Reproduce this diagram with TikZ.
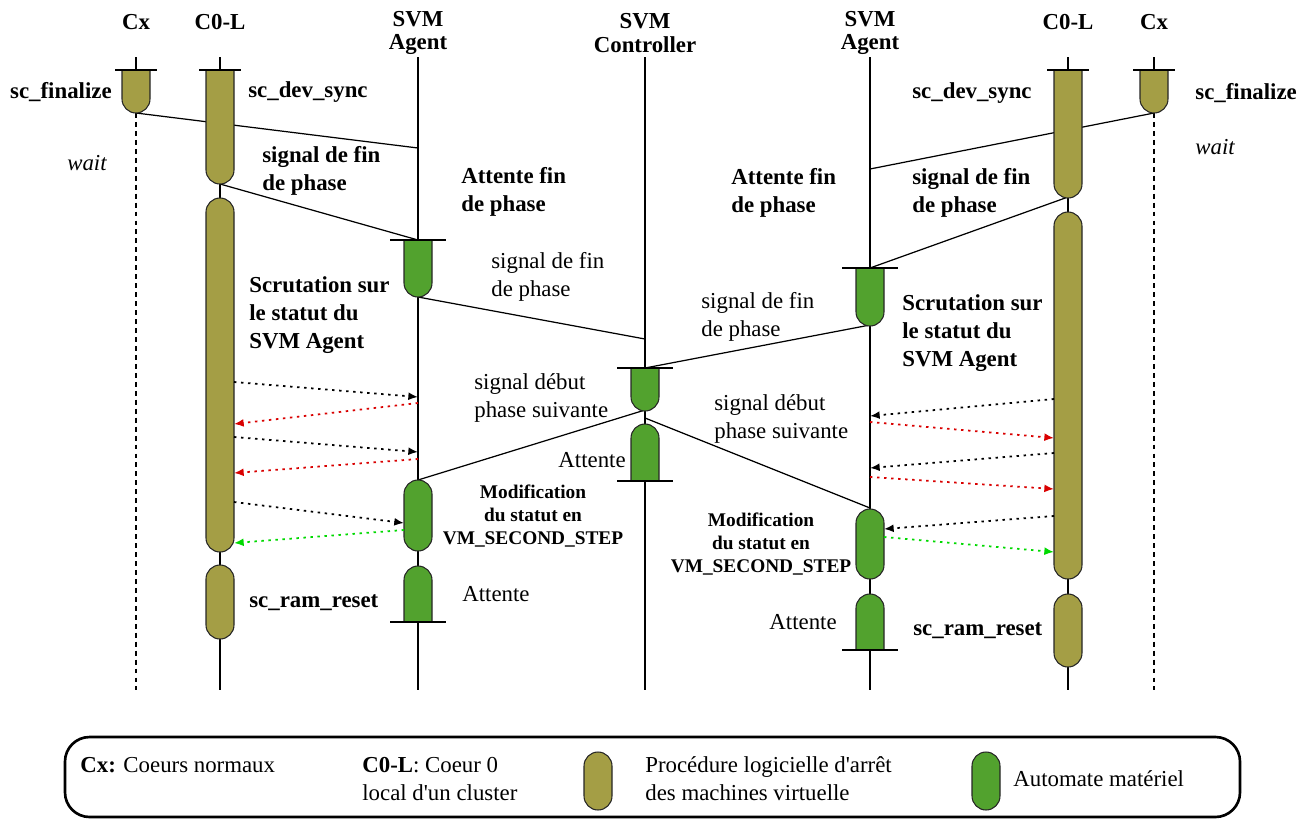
\documentclass[tikz,border=0pt]{standalone}
\usepackage{fontspec}
\setmainfont{Liberation Serif}[Ligatures=TeXOff]
\usetikzlibrary{arrows.meta}
\definecolor{olivebox}{RGB}{164,158,69}
\definecolor{greenbox}{RGB}{82,162,46}
\colorlet{pollred}{red!85!black}
\colorlet{pollgreen}{green!85!black}

% flat top with a tick, rounded bottom: x, top, bottom, colour, tick half width
\newcommand\boxdown[5]{%
  \draw[boxdraw, fill=#4] (#1-14,#2) -- (#1-14,#3-14) arc(180:0:14) -- (#1+14,#2) -- cycle;
  \draw[tick] (#1-#5,#2) -- (#1+#5,#2);}
% rounded top, flat bottom with a tick
\newcommand\boxup[5]{%
  \draw[boxdraw, fill=#4] (#1-14,#3) -- (#1-14,#2+14) arc(180:360:14) -- (#1+14,#3) -- cycle;
  \draw[tick] (#1-#5,#3) -- (#1+#5,#3);}
% both ends rounded
\newcommand\pillbox[4]{%
  \draw[boxdraw, fill=#4] (#1-14,#2+14) arc(180:360:14) -- (#1+14,#3-14) arc(0:180:14) -- cycle;}

\tikzset{
  lifeline/.style={line width=0.7pt},
  cxline/.style={line width=0.7pt, dash pattern=on 2.8pt off 2.3pt},
  tick/.style={line width=0.8pt},
  boxdraw/.style={draw=black!85, line width=0.6pt},
  signal/.style={line width=0.7pt},
  poll/.style={line width=1pt, dash pattern=on 1.4pt off 2.6pt, -{Latex[length=5.5pt,width=4.5pt]}},
  lbl/.style={inner sep=0pt, align=left, font=\fontsize{13}{15.8}\selectfont},
  blbl/.style={lbl, font=\fontsize{13}{15.8}\selectfont\bfseries},
  ilbl/.style={lbl, font=\fontsize{13}{15.8}\selectfont\itshape},
  head/.style={inner sep=0pt, align=center, font=\fontsize{13}{13.5}\selectfont\bfseries},
  modlbl/.style={inner sep=0pt, align=center, font=\fontsize{11}{13}\selectfont\bfseries},
  legend/.style={line width=1.5pt, rounded corners=14pt},
}

\begin{document}
\begin{tikzpicture}[x=0.02cm, y=-0.02cm]
  \useasboundingbox (0,0) rectangle (1308,819);

  % headers
  \node[head] (hcxa) at (136,22) {Cx};
  \node[head] (hcla) at (220,22) {C0-L};
  \node[head] (haga) at (418,33) {SVM\\Agent};
  \node[head] (hctl) at (645,33) {SVM\\Controller};
  \node[head] (hagb) at (870,33) {SVM\\Agent};
  \node[head] (hclb) at (1068,22) {C0-L};
  \node[head] (hcxb) at (1154,22) {Cx};

  % lifelines
  \foreach \x in {220,418,645,870,1068}
    \draw[lifeline] (\x,57) -- (\x,690);
  \foreach \x in {136,1154} {
    \draw[lifeline] (\x,57) -- (\x,70);
    \draw[cxline] (\x,113) -- (\x,690);
  }

  % signals
  \coordinate (cxa-f) at (136,113);
  \coordinate (aga-w) at (418,148);
  \coordinate (cla-f) at (220,184);
  \coordinate (aga-t) at (418,240);
  \coordinate (aga-b) at (418,297);
  \coordinate (ctl-w) at (645,339);
  \coordinate (cxb-f) at (1154,113);
  \coordinate (agb-w) at (870,169);
  \coordinate (clb-f) at (1068,197);
  \coordinate (agb-t) at (870,268);
  \coordinate (agb-b) at (870,325);
  \coordinate (ctl-t) at (645,368);
  \coordinate (ctl-b1) at (645,410);
  \coordinate (aga-p) at (418,480);
  \coordinate (ctl-b2) at (645,418);
  \coordinate (agb-p) at (870,508);
  \draw[signal] (cxa-f) -- (aga-w);
  \draw[signal] (cla-f) -- (aga-t);
  \draw[signal] (aga-b) -- (ctl-w);
  \draw[signal] (cxb-f) -- (agb-w);
  \draw[signal] (clb-f) -- (agb-t);
  \draw[signal] (agb-b) -- (ctl-t);
  \draw[signal] (ctl-b1) -- (aga-p);
  \draw[signal] (ctl-b2) -- (agb-p);

  % boxes
  \boxdown{136}{70}{113}{olivebox}{21}
  \boxdown{220}{70}{184}{olivebox}{21}
  \pillbox{220}{198}{552}{olivebox}
  \pillbox{220}{565}{639}{olivebox}
  \boxdown{418}{240}{297}{greenbox}{28}
  \pillbox{418}{480}{551}{greenbox}
  \boxup{418}{566}{622}{greenbox}{28}
  \boxdown{645}{368}{411}{greenbox}{28}
  \boxup{645}{424}{481}{greenbox}{28}
  \boxdown{870}{268}{326}{greenbox}{28}
  \pillbox{870}{509}{579}{greenbox}
  \boxup{870}{594}{650}{greenbox}{28}
  \boxdown{1068}{70}{198}{olivebox}{21}
  \pillbox{1068}{212}{579}{olivebox}
  \pillbox{1068}{594}{667}{olivebox}
  \boxdown{1154}{70}{113}{olivebox}{21}

  % polling of the agent status
  \foreach \xa/\ya/\xb/\yb/\col [count=\k] in {
      234/382/418/397/black, 418/403/234/424/pollred,
      234/437/418/452/black, 418/459/234/473/pollred,
      234/502/404/523/black, 404/530/234/543/pollgreen,
      1054/399/870/416/black, 870/422/1054/438/pollred,
      1054/453/870/468/black, 870/477/1054/489/pollred,
      1054/516/884/529/black, 884/537/1054/552/pollgreen} {
    \coordinate (pa\k) at (\xa,\ya);
    \coordinate (pb\k) at (\xb,\yb);
    \draw[poll, \col] (pa\k) -- (pb\k);
  }

  % labels, left half
  \node[blbl, anchor=east] (fina) at (112,92) {sc\_finalize};
  \node[blbl, anchor=west] (deva) at (248,92) {sc\_dev\_sync};
  \node[ilbl, anchor=east] (waita) at (107,163) {wait};
  \node[blbl, anchor=west] (fpa) at (262,171) {signal de fin\\de phase};
  \node[blbl, anchor=west] (atta) at (461,192) {Attente fin\\de phase};
  \node[lbl, anchor=west] (sfa) at (491,277) {signal de fin\\de phase};
  \node[blbl, anchor=west] (scra) at (249,315) {Scrutation sur\\le statut du\\SVM Agent};
  \node[lbl, anchor=west] (sda) at (474,398) {signal début\\phase suivante};
  \node[lbl, anchor=east] (attc) at (626,460) {Attente};
  \node[modlbl] (moda) at (533,516) {Modification\\du statut en\\VM\_SECOND\_STEP};
  \node[lbl, anchor=west] (attwa) at (462,594) {Attente};
  \node[blbl, anchor=west] (rama) at (249,603) {sc\_ram\_reset};

  % labels, right half
  \node[blbl, anchor=west] (devb) at (912,93) {sc\_dev\_sync};
  \node[blbl, anchor=west] (finb) at (1195,93) {sc\_finalize};
  \node[ilbl, anchor=west] (waitb) at (1195,147) {wait};
  \node[blbl, anchor=west] (attb) at (731,193) {Attente fin\\de phase};
  \node[blbl, anchor=west] (fpb) at (912,193) {signal de fin\\de phase};
  \node[lbl, anchor=west] (sfb) at (701,317) {signal de fin\\de phase};
  \node[blbl, anchor=west] (scrb) at (902,333) {Scrutation sur\\le statut du\\SVM Agent};
  \node[lbl, anchor=west] (sdb) at (714,419) {signal début\\phase suivante};
  \node[modlbl] (modb) at (761,544) {Modification\\du statut en\\VM\_SECOND\_STEP};
  \node[lbl, anchor=east] (attwb) at (837,622) {Attente};
  \node[blbl, anchor=west] (ramb) at (913,631) {sc\_ram\_reset};

  % legend
  \draw[legend] (65,737) rectangle (1240,817);
  \node[lbl, anchor=west] (lgcx) at (80,765) {\textbf{Cx:} Coeurs normaux};
  \node[lbl, anchor=west] (lgcl) at (362,779) {\textbf{C0-L}: Coeur 0\\local d'un cluster};
  \pillbox{598}{752}{810}{olivebox}
  \node[lbl, anchor=west] (lgproc) at (645,779) {Procédure logicielle d'arrêt\\des machines virtuelle};
  \pillbox{986}{752}{810}{greenbox}
  \node[lbl, anchor=west] (lgaut) at (1013,779) {Automate matériel};
\end{tikzpicture}
\end{document}
